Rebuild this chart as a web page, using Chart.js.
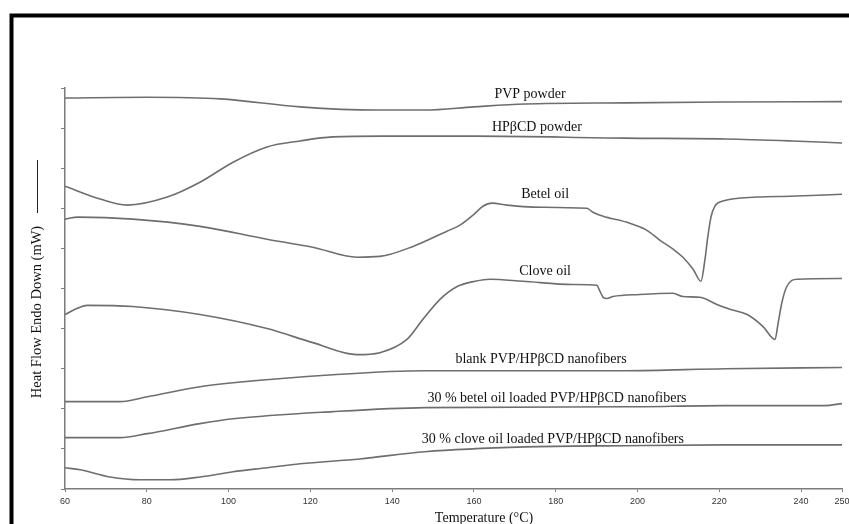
<!DOCTYPE html>
<html>
<head>
<meta charset="utf-8">
<script src="https://cdn.jsdelivr.net/npm/chart.js@4.4.1/dist/chart.umd.min.js"></script>
<style>
  html, body { margin: 0; padding: 0; background: #fff; }
</style>
</head>
<body>
<canvas id="dscChart" width="849" height="524"></canvas>
<script>
// DSC traces: temperature (°C) and stacked heat flow (mW, arbitrary offset)
const pvpTemp = [60, 80, 98, 117.5, 136, 148, 160, 172.5, 197, 221, 250];
const pvpFlow = [9.75, 9.77, 9.73, 9.53, 9.45, 9.45, 9.53, 9.6, 9.63, 9.65, 9.66];

const hpbcdTemp = [60, 68.6, 75.2, 85, 93, 101.1, 109.4, 117.5, 125.5, 137.8, 160.3, 196.9, 221.4, 237.8, 250];
const hpbcdFlow = [7.55, 7.23, 7.08, 7.28, 7.65, 8.15, 8.53, 8.68, 8.78, 8.8, 8.8, 8.75, 8.73, 8.68, 8.63];

const betelTemp = [60, 63.2, 76.6, 93, 109.4, 120.6, 131.4, 137, 145.1, 153.4, 156.6, 159.8, 162.2, 164.4, 168.1,
  174.4, 187.6, 189.1, 191.6, 197.4, 202.3, 205.5, 208.7, 211.1, 213.6, 215.5, 216.5, 217.2, 218, 218.9, 220.9,
  229.2, 237.3, 250];
const betelFlow = [6.73, 6.78, 6.73, 6.55, 6.23, 6.03, 5.78, 5.8, 6.05, 6.43, 6.58, 6.83, 7.05, 7.13, 7.08,
  7.03, 7.0, 6.9, 6.8, 6.65, 6.45, 6.2, 5.98, 5.78, 5.48, 5.18, 5.73, 6.3, 6.8, 7.05, 7.18,
  7.28, 7.3, 7.35];

const cloveTemp = [60, 62.9, 65.4, 76.6, 93, 109.4, 120.6, 131.4, 137, 143.6, 147.5, 151.7, 155.9, 160.3, 163.9,
  172, 184.2, 190.1, 190.6, 191.6, 192.5, 194, 200.6, 208.7, 211.1, 215.3, 219.4, 222.6, 226.8, 230.7,
  233.6, 234.4, 235.3, 236.5, 239, 250];
const cloveFlow = [4.35, 4.5, 4.58, 4.55, 4.35, 4.0, 3.65, 3.35, 3.4, 3.73, 4.23, 4.73, 5.05, 5.18, 5.23,
  5.18, 5.1, 5.08, 4.98, 4.78, 4.75, 4.8, 4.85, 4.88, 4.8, 4.78, 4.6, 4.48, 4.35, 4.05,
  3.73, 4.15, 4.65, 5.05, 5.23, 5.25];

const blankTemp = [60, 73.4, 80.1, 93, 101.1, 125.5, 148, 196.9, 221.4, 250];
const blankFlow = [2.18, 2.18, 2.3, 2.55, 2.65, 2.85, 2.95, 2.95, 3.0, 3.03];

const betelFiberTemp = [60, 73.4, 80.1, 93, 101.1, 125.5, 148, 196.9, 221.4, 245.8, 250];
const betelFiberFlow = [1.28, 1.28, 1.38, 1.63, 1.75, 1.93, 2.03, 2.05, 2.08, 2.08, 2.13];

const cloveFiberTemp = [60, 63.7, 71, 78.3, 85.7, 93, 101.1, 109.4, 117.5, 132.1, 148, 172.5, 196.9, 221.4, 250];
const cloveFiberFlow = [0.53, 0.48, 0.3, 0.23, 0.23, 0.3, 0.43, 0.53, 0.63, 0.75, 0.93, 1.05, 1.08, 1.1, 1.1];

const curveLabels = ['PVP powder', 'HPβCD powder', 'Betel oil', 'Clove oil', 'blank PVP/HPβCD nanofibers',
  '30 % betel oil loaded PVP/HPβCD nanofibers', '30 % clove oil loaded PVP/HPβCD nanofibers'];
const labelTemp = [173.7, 175.4, 177.4, 177.4, 176.4, 180.3, 179.3];
const labelFlow = [9.83, 9.03, 7.35, 5.43, 3.23, 2.25, 1.25];

const xTicks = [60, 80, 100, 120, 140, 160, 180, 200, 220, 240, 250];
const yTicks = [0, 1, 2, 3, 4, 5, 6, 7, 8, 9, 10];

const traces = [
  [pvpTemp, pvpFlow], [hpbcdTemp, hpbcdFlow], [betelTemp, betelFlow], [cloveTemp, cloveFlow],
  [blankTemp, blankFlow], [betelFiberTemp, betelFiberFlow], [cloveFiberTemp, cloveFiberFlow],
];

const lineColor = '#6e6e6e';
const axisColor = '#7c7c7c';

// frame, titles and per-curve labels
const annotate = {
  id: 'annotate',
  beforeDraw(chart) {
    const { ctx, width, height } = chart;
    ctx.save();
    ctx.fillStyle = '#fff';
    ctx.fillRect(0, 0, width, height);
    ctx.restore();
  },
  afterDraw(chart) {
    const { ctx, scales: { x, y } } = chart;
    ctx.save();
    ctx.strokeStyle = '#000';
    ctx.lineWidth = 4;
    ctx.beginPath();
    ctx.moveTo(11.5, 524);
    ctx.lineTo(11.5, 15.5);
    ctx.lineTo(849, 15.5);
    ctx.stroke();

    ctx.fillStyle = '#111';
    ctx.font = '14px "Liberation Serif"';
    ctx.textAlign = 'center';
    ctx.textBaseline = 'middle';
    curveLabels.forEach((txt, i) => {
      ctx.fillText(txt, x.getPixelForValue(labelTemp[i]), y.getPixelForValue(labelFlow[i]));
    });

    ctx.fillText('Temperature (°C)', 484, 518);

    ctx.translate(37, 312);
    ctx.rotate(-Math.PI / 2);
    ctx.font = '14.5px "Liberation Serif"';
    ctx.fillText('Heat Flow Endo Down (mW)', 0, 0);
    ctx.strokeStyle = '#222';
    ctx.lineWidth = 1;
    ctx.beginPath();
    ctx.moveTo(99, 0.5);
    ctx.lineTo(152, 0.5);
    ctx.stroke();
    ctx.restore();
  },
};

new Chart('dscChart', {
  type: 'line',
  data: {
    datasets: traces.map(([temps, flows]) => ({
      data: temps.map((t, i) => ({ x: t, y: flows[i] })),
      borderColor: lineColor,
      borderWidth: 1.6,
      pointRadius: 0,
      fill: false,
      cubicInterpolationMode: 'monotone',
    })),
  },
  options: {
    responsive: false,
    animation: false,
    layout: { padding: { left: 65, top: 88, right: 7, bottom: 0 } },
    plugins: {
      legend: { display: false },
      tooltip: { enabled: false },
    },
    scales: {
      x: {
        type: 'linear',
        min: 60,
        max: 250,
        afterBuildTicks: scale => { scale.ticks = xTicks.map(v => ({ value: v })); },
        afterFit: scale => {
          scale.height = 35;
          // let the last label run off the edge like the scan does
          scale.paddingLeft = 0;
          scale.paddingRight = 0;
        },
        ticks: {
          color: '#333',
          font: { family: '"Liberation Sans"', size: 9 },
          padding: 4,
          maxRotation: 0,
          autoSkip: false,
        },
        grid: { drawOnChartArea: false, tickLength: 3, color: axisColor },
        border: { color: axisColor, width: 1.5 },
      },
      y: {
        type: 'linear',
        min: 0,
        max: 10,
        afterBuildTicks: scale => { scale.ticks = yTicks.map(v => ({ value: v })); },
        afterFit: scale => { scale.width = 0; },
        ticks: { display: false },
        grid: { drawOnChartArea: false, tickLength: 4, color: axisColor },
        border: { color: axisColor, width: 1.5 },
      },
    },
  },
  plugins: [annotate],
});
</script>
</body>
</html>
